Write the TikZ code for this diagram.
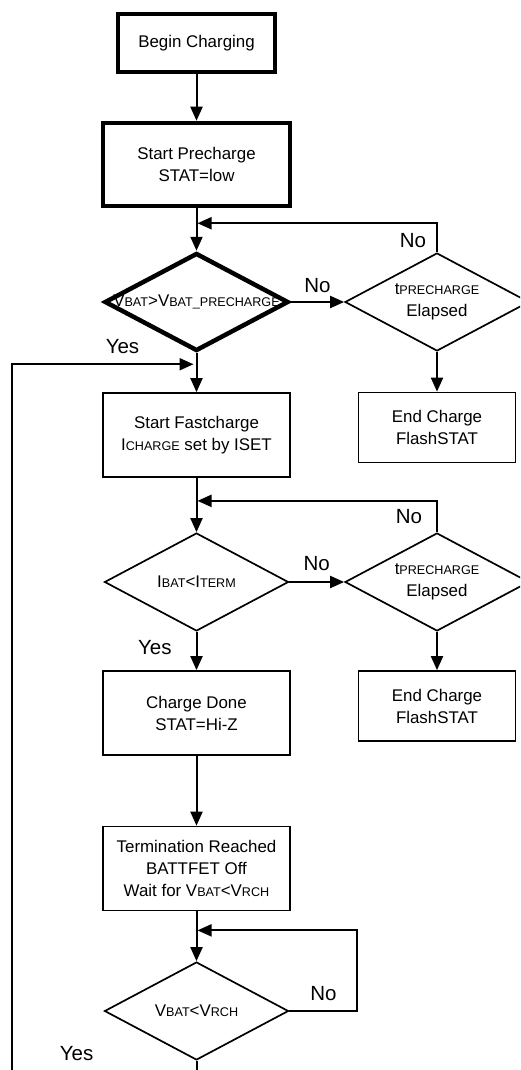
\documentclass[tikz,border=0pt]{standalone}
\usepackage{fontspec}
\setmainfont{Liberation Sans}
\usetikzlibrary{positioning,shapes.geometric,arrows.meta}
\newcommand{\lo}[1]{{\fontsize{12.6}{14}\selectfont #1}}

\begin{document}
\begin{tikzpicture}[
        x=1pt,y=-1pt,on grid,
        >={Triangle[length=14pt,width=12pt]},
        every node/.style={font=\fontsize{16.9}{22}\selectfont},
        process/.style={
          draw,line width=1.7pt,align=center,minimum width=187pt,minimum height=84pt},
        endbox/.style={process,minimum width=157pt,minimum height=70pt},
        decision/.style={
          draw,diamond,shape aspect=1.9,line width=1.7pt,inner sep=0pt,
          minimum width=184pt,minimum height=98pt,align=center},
        heavy/.style={line width=4.5pt},
        lbl/.style={font=\fontsize{20.5}{24}\selectfont,inner sep=0pt},
        flow/.style={->,line width=2pt}]
      \useasboundingbox (0,0) rectangle (520,1070);
      \clip (0,0) rectangle (520,1070);
      \node[process,heavy,minimum width=157pt,minimum height=58pt] (begin) at (196.5,43) {Begin Charging};
      \node[process,heavy,minimum height=83pt,below=121.5pt of begin] (pre) {Start Precharge\\STAT=low};
      \node[decision,heavy,below=137.5pt of pre] (vbatpre) {\makebox[0pt]{V\lo{BAT}>V\lo{BAT\_PRECHARGE}}};
      \node[decision,right=240.5pt of vbatpre] (tpre1) {t\lo{PRECHARGE}\\Elapsed};
      \node[endbox,below=125.5pt of tpre1] (end1) {End Charge\\FlashSTAT};
      \node[process,below=133pt of vbatpre] (fast) {Start Fastcharge\\I\lo{CHARGE} set by ISET};
      \node[decision,below=147pt of fast] (ibat) {I\lo{BAT}<I\lo{TERM}};
      \node[decision,right=240.5pt of ibat] (tpre2) {t\lo{PRECHARGE}\\Elapsed};
      \node[endbox,below=124pt of tpre2] (end2) {End Charge\\FlashSTAT};
      \node[process,below=131pt of ibat] (done) {Charge Done\\STAT=Hi-Z};
      \node[process,below=155.5pt of done] (term) {Termination Reached\\BATTFET Off\\Wait for V\lo{BAT}<V\lo{RCH}};
      \node[decision,below=142.5pt of term] (vrch) {V\lo{BAT}<V\lo{RCH}};
      \coordinate[below=15pt of pre.south] (back1);
      \coordinate[below=23pt of fast.south] (back2);
      \coordinate[below=19pt of term.south] (back3);
      \coordinate[below=11pt of vbatpre.south] (yesin);
      \coordinate[left=185pt of yesin] (rail);
      \coordinate[below=40pt of vrch.south] (bottom);
      \coordinate[right=68pt of vrch.east] (corner3);
      \draw[flow] (begin) -- (pre);
      \draw[flow] (pre) -- (vbatpre);
      \draw[flow] (vbatpre) -- node[lbl,above=8pt] (no1) {No} (tpre1);
      \draw[flow,shorten >=1pt] (tpre1.north) |- node[lbl,left=10pt,pos=0.2] (no2) {No} (back1);
      \draw[flow] (tpre1) -- (end1);
      \draw[flow] (vbatpre) -- (fast);
      \draw[flow] (fast) -- (ibat);
      \draw[flow] (ibat) -- node[lbl,above=10pt] (no3) {No} (tpre2);
      \draw[flow,shorten >=1pt] (tpre2.north) |- node[lbl,left=14pt,pos=0.25] (no4) {No} (back2);
      \draw[flow] (tpre2) -- (end2);
      \draw[flow] (ibat) -- node[lbl,left=24pt,pos=0.4] (yes2) {Yes} (done);
      \draw[flow] (done) -- (term);
      \draw[flow] (term) -- (vrch);
      \draw[flow,shorten >=1pt] (vrch.east) -- node[lbl,above=9pt] (no5) {No} (corner3) |- (back3);
      \draw[flow,shorten >=3pt] (vrch.south) -- (bottom) -| (rail) -- node[lbl,above=10pt,pos=0.6] (yes1) {Yes} (yesin);
      \node[lbl,anchor=south east] (yes3) at ([xshift=-103pt]vrch.south) {Yes};
    \end{tikzpicture}
\end{document}
